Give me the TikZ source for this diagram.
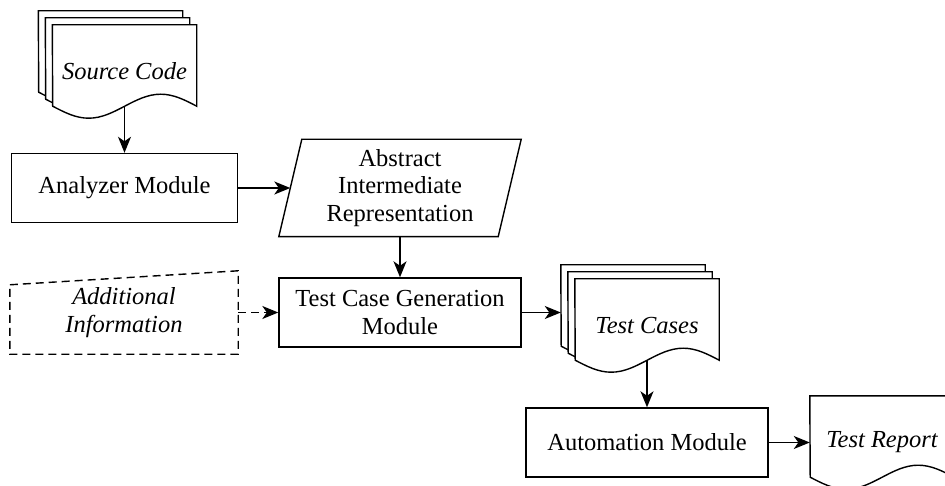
\documentclass[tikz,border=0pt]{standalone}
\usepackage{fontspec}
\setmainfont{Liberation Serif}
\usepackage{tikz}
\usetikzlibrary{arrows.meta}
\usetikzlibrary{backgrounds}
\usetikzlibrary{calc}

\newcommand{\docpage}[3]{%
    \filldraw [docline] ([xshift=#2, yshift=#3]#1.north west) -- ([xshift=#2, yshift=#3]#1.north east)
        -- ([xshift=#2, yshift=#3+12pt]#1.south east) sin ++(-36pt, 12pt) cos ++(-36pt, -12pt)
        sin ++(-36pt, -12pt) cos ++(-36pt, 12pt) -- cycle;
}

\begin{document}
\begin{tikzpicture}[x=1pt, y=-1pt,
    txt/.style={font=\fontsize{24.5}{27.5}\selectfont, align=center, inner sep=0pt},
    ital/.style={txt, font=\fontsize{24.5}{27.5}\selectfont\itshape},
    module/.style={txt, draw, line width=1.4pt, minimum width=242pt, minimum height=69pt},
    doc/.style={ital, minimum width=144pt, minimum height=93pt},
    docline/.style={fill=white, line width=1.4pt},
    arr/.style={-{Stealth[length=16pt, width=13pt, inset=4.5pt]}, line width=1.4pt},
    dashline/.style={dash pattern=on 8pt off 5pt}]
    \useasboundingbox (0, 0) rectangle (945, 486);

    \node [doc] (src) at (124.5, 71.5) {Source Code};
    \node [module, minimum width=226pt] (ana) at (124.5, 188) {Analyzer Module};
    \node [txt, minimum width=242pt, minimum height=97pt] (air) at (400, 188) {Abstract\\Intermediate\\Representation};
    \node [ital, minimum width=228pt, minimum height=83pt] (add) at (124, 312.5) {Additional\\Information};
    \node [module] (tcg) at (400, 312.5) {Test Case Generation\\Module};
    \node [doc] (cases) at (647, 325.5) {Test Cases};
    \node [module] (auto) at (647, 442.5) {Automation Module};
    \node [doc] (rep) at (882, 442.5) {Test Report};

    \begin{scope}[on background layer]
        \foreach \n in {src,cases}
            \foreach \d in {14,7,0}
                {\docpage{\n}{-\d pt}{\d pt}}
        \docpage{rep}{0pt}{0pt}
    \end{scope}
    \draw [line width=1.4pt] ([xshift=23pt]air.north west) -- (air.north east) -- ([xshift=-23pt]air.south east) -- (air.south west) -- cycle;
    \draw [line width=1.4pt, dashline] ([yshift=-14pt]add.north west) -- (add.north east) -- (add.south east) -- (add.south west) -- cycle;

    \draw [arr] ([yshift=12pt]src.south) -- (ana);
    \draw [arr] (ana) -- ([xshift=11.5pt]air.west);
    \draw [arr] (air) -- (tcg);
    \draw [arr, dashline] (add) -- (tcg);
    \draw [arr] (tcg) -- ($(tcg.east -| cases.west)+(-14pt, 0)$);
    \draw [arr] ([yshift=12pt]cases.south) -- (auto);
    \draw [arr] (auto) -- (rep);
  \end{tikzpicture}
\end{document}
